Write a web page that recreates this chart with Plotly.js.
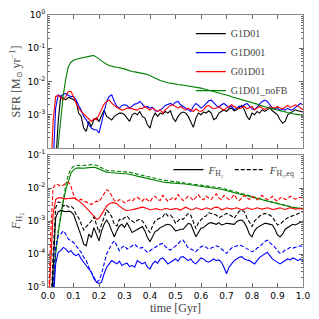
<!DOCTYPE html>
<html><head><meta charset="utf-8">
<script src="https://cdn.plot.ly/plotly-3.0.1.min.js"></script>
<style>html,body{margin:0;padding:0;background:#fff}#chart{width:319px;height:319px}</style>
</head><body><div id="chart"></div>
<script>
// time axis [Gyr]
const timeGyr = [0,0.01,0.02,0.03,0.04,0.05,0.06,0.07,0.08,0.09,
0.10,0.11,0.12,0.13,0.14,0.15,0.16,0.17,0.18,0.19,
0.20,0.21,0.22,0.23,0.24,0.25,0.26,0.27,0.28,0.29,
0.30,0.31,0.32,0.33,0.34,0.35,0.36,0.37,0.38,0.39,
0.40,0.41,0.42,0.43,0.44,0.45,0.46,0.47,0.48,0.49,
0.50,0.51,0.52,0.53,0.54,0.55,0.56,0.57,0.58,0.59,
0.60,0.61,0.62,0.63,0.64,0.65,0.66,0.67,0.68,0.69,
0.70,0.71,0.72,0.73,0.74,0.75,0.76,0.77,0.78,0.79,
0.80,0.81,0.82,0.83,0.84,0.85,0.86,0.87,0.88,0.89,
0.90,0.91,0.92,0.93,0.94,0.95,0.96,0.97,0.98,0.99,1.00];

// values, stored as log10
const log10SFR_G1D01 = [-6,-6,-6,-4.5,-3.2,-2.45,-2.5,-2.55,-2.48,-2.5,
-2.55,-2.6,-2.95,-3.05,-3.4,-3.5,-3.2,-3.35,-3.15,-3.1,
-3.2,-3.0,-2.86,-3.05,-3.1,-3.16,-3.05,-3.0,-2.95,-2.95,
-3.0,-3.1,-3.2,-3.0,-2.95,-3.0,-2.9,-3.05,-3.1,-3.3,
-3.4,-3.1,-2.95,-3.05,-2.95,-2.98,-2.9,-2.95,-2.88,-3.1,
-3.2,-3.05,-2.95,-2.92,-2.95,-3.05,-3.2,-3.38,-3.1,-2.95,
-3.0,-2.92,-2.95,-2.88,-2.95,-3.15,-3.1,-2.95,-2.9,-2.85,
-2.9,-2.82,-2.8,-2.88,-2.85,-2.78,-2.72,-2.85,-3.05,-3.15,
-2.95,-3.0,-2.9,-2.95,-2.85,-2.9,-2.85,-2.8,-2.88,-2.95,
-3.0,-3.15,-3.25,-3.2,-3.0,-2.95,-2.9,-2.85,-2.88,-2.9,-2.92];
const log10SFR_G1D001 = [-6,-6,-4.5,-2.8,-2.4,-2.45,-2.38,-2.36,-2.42,-2.45,
-2.45,-2.55,-2.72,-2.86,-3.05,-3.15,-3.3,-3.4,-3.45,-3.45,
-3.55,-3.2,-2.9,-2.6,-2.45,-2.4,-2.6,-2.75,-2.8,-2.72,
-2.7,-2.72,-2.8,-2.75,-2.68,-2.66,-2.6,-2.68,-2.78,-2.75,
-2.8,-2.78,-2.88,-2.9,-2.85,-2.8,-2.72,-2.68,-2.66,-2.7,
-2.62,-2.6,-2.7,-2.75,-2.8,-2.85,-2.9,-2.75,-2.66,-2.72,
-2.8,-2.75,-2.68,-2.58,-2.56,-2.65,-2.72,-2.78,-2.7,-2.66,
-2.72,-2.78,-2.74,-2.85,-2.8,-2.74,-2.78,-2.7,-2.66,-2.75,
-2.82,-2.85,-2.75,-2.68,-2.6,-2.56,-2.6,-2.7,-2.8,-2.84,
-2.78,-2.88,-2.82,-2.86,-2.8,-2.86,-2.84,-2.78,-2.72,-2.66,-2.7];
const log10SFR_G01D01 = [-6,-5,-3.2,-2.45,-2.42,-2.5,-2.55,-2.45,-2.3,-2.3,
-2.45,-2.65,-2.8,-2.9,-2.98,-3.05,-3.15,-3.2,-3.12,-3.15,
-3.0,-2.85,-2.68,-2.6,-2.56,-2.65,-2.72,-2.78,-2.82,-2.86,
-2.84,-2.8,-2.8,-2.82,-2.85,-2.86,-2.8,-2.82,-2.75,-2.82,
-2.86,-2.8,-2.85,-2.9,-2.85,-2.95,-2.85,-2.78,-2.72,-2.7,
-2.75,-2.8,-2.75,-2.82,-2.86,-2.8,-2.86,-2.9,-2.82,-2.88,
-2.9,-2.85,-2.75,-2.72,-2.78,-2.82,-2.8,-2.75,-2.82,-2.86,
-2.8,-2.74,-2.7,-2.75,-2.8,-2.82,-2.78,-2.75,-2.82,-2.78,
-2.75,-2.85,-2.8,-2.75,-2.8,-2.84,-2.8,-2.76,-2.78,-2.8,
-2.75,-2.8,-2.82,-2.76,-2.72,-2.78,-2.75,-2.7,-2.74,-2.8,-2.85];
const log10SFR_G1D01_noFB = [-6,-6,-6,-6,-3.9,-3.1,-2.4,-1.9,-1.55,-1.42,
-1.36,-1.33,-1.31,-1.30,-1.28,-1.27,-1.25,-1.23,-1.22,-1.26,
-1.32,-1.38,-1.44,-1.48,-1.52,-1.55,-1.56,-1.57,-1.58,-1.60,
-1.62,-1.65,-1.68,-1.70,-1.71,-1.72,-1.73,-1.75,-1.77,-1.79,
-1.82,-1.86,-1.90,-1.93,-1.97,-2.00,-2.02,-2.04,-2.05,-2.07,
-2.08,-2.09,-2.10,-2.11,-2.12,-2.13,-2.14,-2.16,-2.17,-2.18,
-2.20,-2.22,-2.24,-2.26,-2.28,-2.30,-2.31,-2.33,-2.36,-2.38,
-2.40,-2.43,-2.46,-2.48,-2.50,-2.52,-2.54,-2.57,-2.60,-2.62,
-2.64,-2.66,-2.68,-2.71,-2.74,-2.76,-2.78,-2.80,-2.82,-2.84,
-2.87,-2.89,-2.91,-2.93,-2.95,-2.96,-2.97,-2.98,-2.99,-3.00,-3.01];

const log10FH2_G1D01 = [-6,-6,-4.5,-2.9,-2.72,-2.68,-2.7,-2.72,-2.7,-2.72,
-2.8,-3.0,-3.2,-3.45,-3.7,-3.75,-3.4,-3.5,-3.2,-3.4,
-3.6,-3.3,-3.1,-2.97,-3.1,-3.3,-3.48,-3.3,-3.15,-3.1,
-3.2,-3.05,-3.2,-3.35,-3.3,-3.25,-3.2,-3.17,-3.3,-3.5,
-3.63,-3.45,-3.32,-3.28,-3.2,-3.17,-3.12,-3.1,-3.12,-3.2,
-3.3,-3.28,-3.25,-3.25,-3.15,-3.07,-3.1,-3.3,-3.48,-3.35,
-3.22,-3.2,-3.12,-3.07,-3.05,-3.08,-3.1,-3.05,-3.12,-3.1,
-3.07,-3.08,-3.1,-3.1,-3.02,-2.98,-2.97,-3.05,-3.2,-3.4,
-3.48,-3.3,-3.2,-3.15,-3.1,-3.07,-3.08,-3.1,-3.12,-3.25,
-3.42,-3.48,-3.4,-3.25,-3.2,-3.15,-3.1,-3.12,-3.08,-3.02,-3.0];
const log10FH2eq_G1D01 = [-6,-6,-4.0,-2.6,-2.42,-2.45,-2.55,-2.5,-2.58,-2.55,
-2.62,-2.8,-2.9,-3.1,-3.27,-3.17,-3.1,-3.0,-2.87,-3.1,
-3.35,-3.1,-2.85,-2.67,-2.75,-2.87,-3.1,-3.15,-2.95,-2.97,
-2.9,-2.85,-2.95,-3.0,-3.05,-2.98,-2.95,-3.0,-3.1,-3.25,
-3.35,-3.15,-3.0,-2.95,-2.9,-2.87,-2.75,-2.85,-2.82,-2.9,
-3.07,-3.0,-2.92,-2.95,-2.85,-2.77,-2.82,-3.0,-3.23,-3.05,
-2.95,-2.87,-2.85,-2.75,-2.77,-2.8,-2.82,-2.9,-2.87,-2.82,
-2.77,-2.8,-2.85,-2.92,-2.8,-2.7,-2.67,-2.72,-2.9,-3.05,
-3.17,-3.0,-2.92,-2.85,-2.8,-2.77,-2.8,-2.82,-2.88,-3.0,
-3.12,-3.1,-3.02,-2.95,-2.9,-2.87,-2.82,-2.8,-2.77,-2.75,-2.72];
const log10FH2_G1D001 = [-6,-6,-5.5,-4.3,-3.95,-3.9,-3.8,-3.85,-3.95,-3.9,
-4.0,-4.05,-4.0,-4.15,-4.25,-4.35,-4.45,-4.55,-4.75,-4.85,
-4.9,-4.85,-4.6,-4.4,-4.3,-4.2,-4.25,-4.3,-4.22,-4.35,
-4.3,-4.28,-4.38,-4.35,-4.4,-4.2,-4.25,-4.3,-4.25,-4.4,
-4.45,-4.3,-4.22,-4.28,-4.15,-4.12,-4.2,-4.3,-4.25,-4.2,
-4.15,-4.22,-4.1,-4.08,-4.15,-4.2,-4.15,-4.25,-4.3,-4.2,
-4.12,-4.15,-4.22,-4.25,-4.2,-4.15,-4.2,-4.18,-4.25,-4.4,
-4.6,-4.4,-4.3,-4.2,-4.15,-4.1,-4.08,-4.15,-4.18,-4.2,
-4.25,-4.3,-4.2,-4.1,-4.05,-4.0,-3.95,-4.05,-4.15,-4.2,
-4.25,-4.3,-4.25,-4.2,-4.15,-4.18,-4.12,-4.15,-4.2,-4.15,-4.2];
const log10FH2eq_G1D001 = [-6,-6,-5.0,-3.8,-3.45,-3.4,-3.3,-3.4,-3.55,-3.6,
-3.65,-3.75,-3.85,-3.95,-4.1,-4.2,-4.4,-4.55,-4.7,-4.85,
-4.8,-4.6,-4.3,-4.0,-3.85,-3.7,-3.6,-3.75,-3.9,-3.8,
-3.75,-3.85,-3.8,-3.75,-3.7,-3.78,-3.82,-3.8,-3.88,-3.95,
-3.9,-3.85,-3.8,-3.75,-3.7,-3.68,-3.75,-3.85,-3.88,-3.82,
-3.78,-3.7,-3.6,-3.58,-3.7,-3.82,-3.85,-3.9,-3.93,-3.85,
-3.78,-3.75,-3.8,-3.85,-3.82,-3.78,-3.75,-3.78,-3.85,-3.9,
-3.98,-3.9,-3.82,-3.78,-3.75,-3.73,-3.75,-3.8,-3.85,-3.88,
-3.93,-3.9,-3.82,-3.78,-3.7,-3.62,-3.58,-3.65,-3.75,-3.8,
-3.9,-3.98,-3.95,-3.88,-3.85,-3.8,-3.82,-3.8,-3.78,-3.75,-3.78];
const log10FH2_G01D01 = [-6,-4.5,-2.8,-2.35,-2.3,-2.3,-2.32,-2.33,-2.32,-2.3,
-2.3,-2.33,-2.38,-2.45,-2.52,-2.6,-2.68,-2.75,-2.85,-2.95,
-2.92,-2.8,-2.68,-2.55,-2.48,-2.45,-2.45,-2.48,-2.55,-2.62,
-2.66,-2.68,-2.68,-2.66,-2.64,-2.62,-2.6,-2.58,-2.6,-2.64,
-2.66,-2.65,-2.62,-2.64,-2.66,-2.65,-2.62,-2.63,-2.66,-2.64,
-2.62,-2.64,-2.67,-2.62,-2.58,-2.62,-2.66,-2.65,-2.6,-2.62,
-2.66,-2.64,-2.6,-2.62,-2.65,-2.6,-2.58,-2.6,-2.66,-2.64,
-2.6,-2.62,-2.64,-2.62,-2.6,-2.63,-2.66,-2.64,-2.6,-2.62,
-2.65,-2.63,-2.6,-2.62,-2.64,-2.62,-2.6,-2.62,-2.65,-2.64,
-2.62,-2.6,-2.63,-2.65,-2.62,-2.6,-2.62,-2.64,-2.63,-2.62,-2.64];
const log10FH2eq_G01D01 = [-6,-3.5,-2.0,-1.88,-1.9,-1.95,-1.92,-1.85,-1.82,-1.95,
-2.2,-2.35,-2.38,-2.34,-2.4,-2.42,-2.45,-2.5,-2.46,-2.4,
-2.42,-2.3,-2.15,-2.05,-2.1,-2.25,-2.38,-2.42,-2.35,-2.38,
-2.45,-2.4,-2.36,-2.4,-2.32,-2.28,-2.35,-2.4,-2.3,-2.35,
-2.42,-2.3,-2.25,-2.35,-2.38,-2.22,-2.3,-2.4,-2.35,-2.28,
-2.35,-2.2,-2.3,-2.38,-2.32,-2.25,-2.3,-2.38,-2.28,-2.2,
-2.32,-2.36,-2.25,-2.3,-2.35,-2.25,-2.18,-2.3,-2.35,-2.22,
-2.28,-2.35,-2.3,-2.2,-2.32,-2.38,-2.3,-2.22,-2.3,-2.35,
-2.25,-2.3,-2.36,-2.28,-2.22,-2.3,-2.35,-2.32,-2.25,-2.35,
-2.4,-2.3,-2.28,-2.35,-2.32,-2.25,-2.3,-2.34,-2.3,-2.28,-2.32];
const log10FH2_G1D01_noFB = [-6,-6,-5.2,-4.0,-3.37,-2.85,-2.4,-2.05,-1.76,-1.55,
-1.45,-1.4,-1.39,-1.4,-1.4,-1.39,-1.38,-1.37,-1.37,-1.39,
-1.42,-1.46,-1.5,-1.52,-1.53,-1.54,-1.55,-1.55,-1.56,-1.56,
-1.57,-1.57,-1.58,-1.6,-1.62,-1.64,-1.66,-1.68,-1.7,-1.72,
-1.74,-1.76,-1.78,-1.8,-1.81,-1.82,-1.83,-1.84,-1.85,-1.85,
-1.86,-1.86,-1.87,-1.87,-1.88,-1.89,-1.9,-1.91,-1.92,-1.93,
-1.94,-1.95,-1.96,-1.97,-1.98,-1.99,-2.0,-2.02,-2.04,-2.06,
-2.08,-2.1,-2.12,-2.14,-2.16,-2.18,-2.2,-2.22,-2.24,-2.26,
-2.28,-2.3,-2.32,-2.35,-2.37,-2.39,-2.41,-2.43,-2.45,-2.47,
-2.49,-2.51,-2.53,-2.54,-2.56,-2.57,-2.59,-2.6,-2.61,-2.62,-2.63];
const log10FH2eq_G1D01_noFB = [-6,-6,-5.0,-3.9,-3.3,-2.8,-2.3,-1.9,-1.6,-1.42,
-1.35,-1.32,-1.31,-1.32,-1.32,-1.31,-1.3,-1.29,-1.29,-1.31,
-1.35,-1.39,-1.43,-1.46,-1.47,-1.48,-1.49,-1.49,-1.5,-1.5,
-1.51,-1.51,-1.52,-1.54,-1.56,-1.58,-1.6,-1.62,-1.64,-1.66,
-1.68,-1.7,-1.72,-1.74,-1.75,-1.76,-1.77,-1.78,-1.79,-1.8,
-1.81,-1.82,-1.83,-1.84,-1.85,-1.85,-1.86,-1.87,-1.88,-1.89,
-1.9,-1.91,-1.92,-1.93,-1.94,-1.95,-1.96,-1.98,-2.0,-2.02,
-2.04,-2.06,-2.08,-2.1,-2.12,-2.14,-2.16,-2.19,-2.21,-2.23,
-2.25,-2.27,-2.3,-2.32,-2.35,-2.37,-2.39,-2.42,-2.44,-2.46,
-2.48,-2.5,-2.52,-2.54,-2.55,-2.57,-2.58,-2.59,-2.6,-2.61,-2.62];

const runNames = ['G1D01','G1D001','G01D01','G1D01_noFB'];
const runColors = ['#000000','#0000ff','#ff0000','#008000'];
const sfrLog = [log10SFR_G1D01, log10SFR_G1D001, log10SFR_G01D01, log10SFR_G1D01_noFB];
const fh2Log = [log10FH2_G1D01, log10FH2_G1D001, log10FH2_G01D01, log10FH2_G1D01_noFB];
const fh2eqLog = [log10FH2eq_G1D01, log10FH2eq_G1D001, log10FH2eq_G01D01, log10FH2eq_G1D01_noFB];

const sfrTicks = [1e-3,1e-2,1e-1,1];
const sfrTickText = ['10<sup>-3</sup>','10<sup>-2</sup>','10<sup>-1</sup>','10<sup>0</sup>'];
const fh2Ticks = [1e-5,1e-4,1e-3,1e-2,1e-1];
const fh2TickText = ['10<sup>-5</sup>','10<sup>-4</sup>','10<sup>-3</sup>','10<sup>-2</sup>','10<sup>-1</sup>'];
const timeTicks = [0,0.1,0.2,0.3,0.4,0.5,0.6,0.7,0.8,0.9,1.0];

const toLin = a => a.map(v => Math.pow(10, v));
const traces = [];
for (let i = 0; i < 4; i++) {
  traces.push({x: timeGyr, y: toLin(sfrLog[i]), xaxis:'x', yaxis:'y', type:'scatter', mode:'lines',
    name: runNames[i], line:{color: runColors[i], width:1.1}, legend:'legend'});
}
for (let i = 3; i >= 0; i--) {
  traces.push({x: timeGyr, y: toLin(fh2Log[i]), xaxis:'x2', yaxis:'y2', type:'scatter', mode:'lines',
    name: '<i>F</i><sub>H₂</sub>', showlegend: i === 0, legend:'legend2',
    line:{color: runColors[i], width:1.1}});
  traces.push({x: timeGyr, y: toLin(fh2eqLog[i]), xaxis:'x2', yaxis:'y2', type:'scatter', mode:'lines',
    name: '<i>F</i><sub>H₂,eq</sub>', showlegend: i === 0, legend:'legend2',
    line:{color: runColors[i], width:1.1, dash:'4px,2px'}});
}

const tickFont = {family:'DejaVu Sans, sans-serif', size:9, color:'#000'};
const serif = 'Liberation Serif, Times New Roman, serif';
const axBase = {showline:true, linecolor:'#888', linewidth:1, mirror:'ticks', ticks:'inside',
  ticklen:4, tickcolor:'#666', showgrid:false, zeroline:false, tickfont: tickFont};
const plotH = 272;
const layout = {
  width:319, height:319, margin:{l:48, r:16, t:15, b:32},
  paper_bgcolor:'#fff', plot_bgcolor:'#fff', showlegend:true,
  xaxis: Object.assign({}, axBase, {domain:[0,1], range:[0,1], anchor:'y', tickvals:timeTicks, showticklabels:false}),
  xaxis2: Object.assign({}, axBase, {domain:[0,1], range:[0,1], anchor:'y2', tickvals:timeTicks, tickformat:'.1f',
    title:{text:'time [Gyr]', font:{family:serif, size:12}, standoff:2}}),
  yaxis: Object.assign({}, axBase, {type:'log', domain:[(287-148)/plotH,1], range:[-4,0], anchor:'x',
    tickvals:sfrTicks, ticktext:sfrTickText,
    minor:{ticks:'inside', ticklen:2, tickcolor:'#666', dtick:'D1'},
    title:{text:'SFR [M<sub>⊙</sub> yr<sup>−1</sup>]', font:{family:serif, size:12}, standoff:4}}),
  yaxis2: Object.assign({}, axBase, {type:'log', domain:[0,132/plotH], range:[-5,-1], anchor:'x2',
    tickvals:fh2Ticks, ticktext:fh2TickText,
    minor:{ticks:'inside', ticklen:2, tickcolor:'#666', dtick:'D1'},
    title:{text:'<i>F</i><sub>H₂</sub>', font:{family:serif, size:12}, standoff:4}}),
  legend: {x:0.56, y:0.985, xanchor:'left', yanchor:'top', bgcolor:'rgba(0,0,0,0)',
    font:{family:serif, size:10}, itemwidth:30, tracegroupgap:0},
  legend2: {orientation:'h', x:0.99, y:0.485, xanchor:'right', yanchor:'top', bgcolor:'rgba(0,0,0,0)',
    font:{family:serif, size:11}, itemwidth:30}
};
Plotly.newPlot('chart', traces, layout, {staticPlot:true, displayModeBar:false});
</script></body></html>
